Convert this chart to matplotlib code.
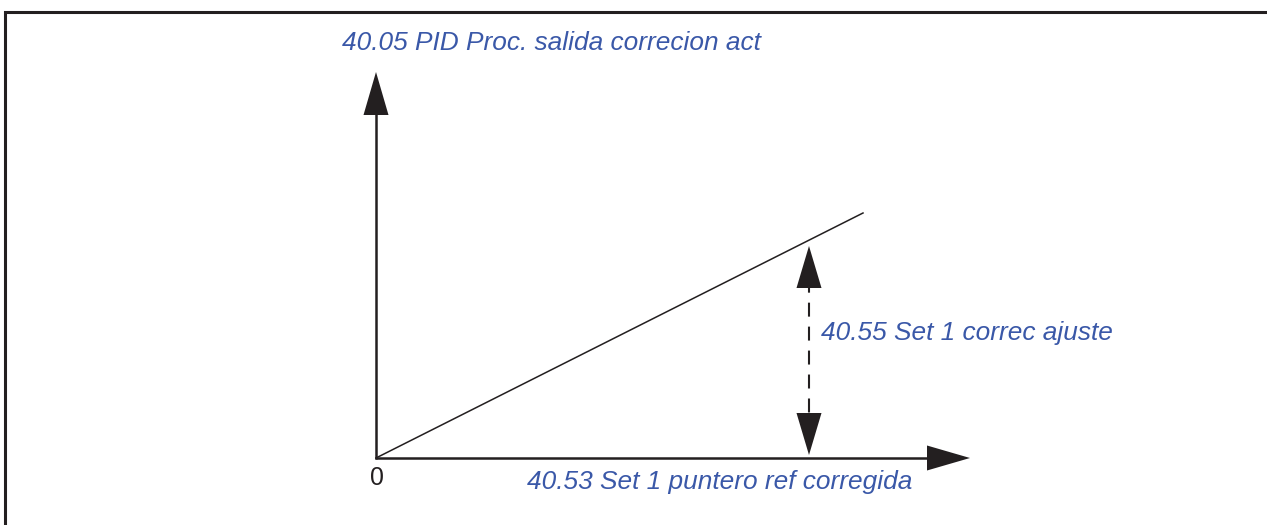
import matplotlib
matplotlib.use("Agg")
import matplotlib.pyplot as plt
from matplotlib.patches import Polygon

W, H = 1267, 525
BLUE = "#3A58A8"
BLACK = "#231F20"

# Diagram geometry (pixel-space data)
origin = (376, 458)
y_axis_tip = (376, 72)
x_axis_tip = (970, 458)
line_x = [376, 863]
line_y = [458, 213]
dash_x = 809
dash_top_tip = 246
dash_bot_tip = 455

labels = {
    "ylabel": "40.05 PID Proc. salida correcion act",
    "xlabel": "40.53 Set 1 puntero ref corregida",
    "delta": "40.55 Set 1 correc ajuste",
    "zero": "0",
}

fig = plt.figure(figsize=(W / 100, H / 100), dpi=100)
ax = fig.add_axes([0, 0, 1, 1])
ax.set_xlim(0, W)
ax.set_ylim(H, 0)
ax.axis("off")

# frame
ax.plot([5, 5, W + 5], [H + 5, 12, 12], color=BLACK, lw=2.2, solid_joinstyle="miter")

def head(tip, direction, length=43, width=25):
    tx, ty = tip
    dx, dy = direction
    bx, by = tx - dx * length, ty - dy * length
    px, py = -dy, dx
    pts = [(tx, ty), (bx + px * width / 2, by + py * width / 2), (bx - px * width / 2, by - py * width / 2)]
    ax.add_patch(Polygon(pts, closed=True, color=BLACK, lw=0))

# axes
ax.plot([origin[0], y_axis_tip[0]], [origin[1] + 1, y_axis_tip[1] + 40], color=BLACK, lw=1.8, solid_capstyle="butt")
head(y_axis_tip, (0, -1))
ax.plot([origin[0] - 1, x_axis_tip[0] - 40], [origin[1], x_axis_tip[1]], color=BLACK, lw=1.8, solid_capstyle="butt")
head(x_axis_tip, (1, 0))

# sloped line
ax.plot(line_x, line_y, color=BLACK, lw=1.1)

# dashed double arrow
ax.plot([dash_x, dash_x], [dash_top_tip + 40, dash_bot_tip - 40], color=BLACK, lw=1.5,
        linestyle=(3.5, (6.7, 4.8)), dash_capstyle="butt")
head((dash_x, dash_top_tip), (0, -1), length=42, width=25)
head((dash_x, dash_bot_tip), (0, 1), length=42, width=25)

fs = 18.9
fp = dict(family=["Liberation Sans", "DejaVu Sans"], style="italic", color=BLUE, fontsize=fs)
ax.text(342, 43, labels["ylabel"], ha="left", va="center", **fp)
ax.text(527, 482, labels["xlabel"], ha="left", va="center", **fp)
ax.text(821, 333, labels["delta"], ha="left", va="center", **fp)
ax.text(377, 478, labels["zero"], ha="center", va="center", family=["Liberation Sans", "DejaVu Sans"],
        color=BLACK, fontsize=fs * 0.95)

fig.savefig("out.png", dpi=100)
